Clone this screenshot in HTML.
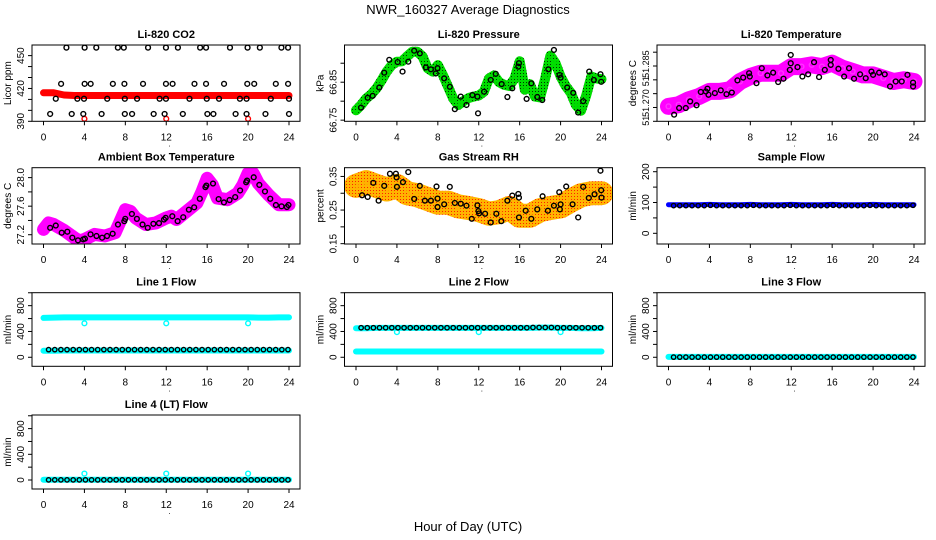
<!DOCTYPE html>
<html><head><meta charset="utf-8"><style>
html,body{margin:0;padding:0;background:#fff}
svg{display:block;font-family:"Liberation Sans",sans-serif}
</style></head><body>
<svg id="chart" width="936" height="540" viewBox="0 0 936 540">
<defs>
<pattern id="patGreen" width="3" height="3" patternUnits="userSpaceOnUse"><rect width="3" height="3" fill="#00dd00"/><rect x="1" y="1" width="1" height="1" fill="#003300"/></pattern>
<pattern id="patOrange" width="3" height="3" patternUnits="userSpaceOnUse"><rect width="3" height="3" fill="#ffb400"/><rect x="1" y="1" width="1" height="1" fill="#ff2000"/></pattern>
</defs>
<text x="468" y="14" text-anchor="middle" font-size="13">NWR_160327  Average Diagnostics</text>
<text x="468" y="531" text-anchor="middle" font-size="13">Hour of Day (UTC)</text>
</svg>
<script>
// ---------- data ----------
const hours25 = [0,1,2,3,4,5,6,7,8,9,10,11,12,13,14,15,16,17,18,19,20,21,22,23,24];
const xTicks = [0,4,8,12,16,20,24];

const co2Red = [416,416,414,413.6,413.6,413.6,413.6,413.6,413.6,413.6,413.6,413.6,413.6,413.6,413.6,413.6,413.6,413.6,413.6,413.6,413.6,413.6,413.6,413.6,413.6];
const co2RedOutT = [4,12,20];
const co2RedOutV = [392.3,392.3,392.3];
const co2BlackT = [2.24,4.02,5.16,7.27,7.85,10.22,11.97,13.14,15.31,15.89,18.23,19.95,21.15,23.26,23.91,
 1.72,4.02,4.61,6.78,7.91,9.73,11.97,12.62,14.76,15.89,17.65,19.92,20.6,22.71,23.91,
 1.2,3.31,3.96,6.23,7.95,9.15,11.35,11.97,14.27,15.96,17.16,19.2,19.85,22.22,24,
 0.65,2.76,3.89,5.68,7.95,8.66,10.77,11.84,13.62,16.02,16.61,18.78,19.85,21.7,24];
const co2BlackV = [457.3,457.3,457.3,457.3,457.3,457.3,457.3,457.3,457.3,457.3,457.3,457.3,457.3,457.3,457.3,
 424.2,424.2,424.2,424.2,424.2,424.2,424.2,424.2,424.2,424.2,424.2,424.2,424.2,424.2,424.2,
 410.6,410.6,410.6,410.6,410.6,410.6,410.6,410.6,410.6,410.6,410.6,410.6,410.6,410.6,410.6,
 396.7,396.7,396.7,396.7,396.7,396.7,396.7,396.7,396.7,396.7,396.7,396.7,396.7,396.7,396.7];

const presHours = [0,0.5,1,1.5,2,2.5,3,3.5,4,4.5,5,5.5,6,6.5,7,7.5,8,8.5,9,9.5,10,10.5,11,11.5,12,12.5,13,13.5,14,14.5,15,15.5,16,16.5,17,17.5,18,18.5,19,19.5,20,20.5,21,21.5,22,22.5,23,23.5,24];
const presGreen = [66.776,66.79,66.807,66.818,66.834,66.855,66.878,66.895,66.904,66.905,66.918,66.93,66.93,66.918,66.887,66.878,66.895,66.869,66.838,66.807,66.79,66.8,66.808,66.812,66.815,66.825,66.86,66.868,66.85,66.843,66.84,66.86,66.905,66.83,66.845,66.812,66.81,66.86,66.92,66.9,66.865,66.84,66.822,66.79,66.775,66.815,66.865,66.86,66.858];
const presBlackT = [0.49,1.14,1.63,2.28,2.76,3.25,4.07,4.55,5.11,5.69,6.24,6.83,7.32,7.8,7.97,8.62,9.17,9.66,10.24,10.8,11.38,11.87,11.93,12.52,13.17,13.66,14.24,14.8,15.28,15.87,15.93,16.68,17.14,17.72,18.21,18.8,19.35,19.9,20,20.65,21.24,21.72,22.21,22.8,23.25,23.9,23.97];
const presBlackV = [66.783,66.809,66.814,66.836,66.875,66.909,66.903,66.878,66.904,66.933,66.926,66.889,66.884,66.873,66.887,66.86,66.838,66.779,66.812,66.79,66.816,66.812,66.768,66.825,66.856,66.872,66.845,66.811,66.834,66.891,66.9,66.806,66.847,66.811,66.803,66.884,66.935,66.869,66.862,66.836,66.822,66.77,66.8,66.878,66.856,66.871,66.851];

const tempMag = [51.2704,51.271,51.2728,51.274,51.2758,51.2758,51.2764,51.2794,51.2812,51.2824,51.2824,51.2824,51.2848,51.2848,51.2854,51.2848,51.286,51.2842,51.283,51.2818,51.2818,51.2806,51.2794,51.28,51.2794];
const tempBlackT = [0.55,1.04,1.69,2.12,2.74,3.16,3.65,3.81,3.91,4.53,5.11,5.67,6.19,6.74,7.3,7.88,7.95,8.6,9.12,9.67,10.23,10.72,11.24,11.86,11.95,11.95,12.61,13.09,13.65,14.23,14.72,15.28,15.86,15.86,16.61,17.17,17.65,18.14,18.73,19.28,19.84,20,20.59,21.14,21.66,22.21,22.8,23.36,23.91,23.91];
const tempBlackV = [51.2674,51.2698,51.2698,51.2722,51.2708,51.2756,51.2758,51.2768,51.2746,51.2752,51.2762,51.2748,51.2754,51.2798,51.2808,51.2824,51.2812,51.2788,51.2842,51.2816,51.2826,51.2792,51.2804,51.2836,51.286,51.289,51.2846,51.2812,51.282,51.2864,51.281,51.2836,51.2872,51.2854,51.284,51.2812,51.2842,51.2804,51.282,51.2806,51.283,51.2818,51.2826,51.282,51.2776,51.2794,51.2794,51.2818,51.279,51.2776];

const ambHours = [0,0.5,1,2,3,3.5,4,5,6,7,7.5,8,8.5,9,10,11,12,12.5,13,14,15,15.5,16,16.5,17,18,19,19.5,20,20.5,21,22,23,24];
const ambMag = [27.274,27.366,27.343,27.26,27.158,27.112,27.135,27.205,27.182,27.228,27.39,27.551,27.528,27.436,27.343,27.366,27.436,27.459,27.413,27.528,27.644,27.806,27.991,27.898,27.713,27.69,27.783,27.898,28.06,28.06,27.921,27.76,27.621,27.621];
const ambBlackT = [0.65,1.2,1.78,2.33,2.82,3.37,3.88,4.05,4.6,5.18,5.73,6.21,6.76,7.28,7.9,7.99,8.64,9.13,9.68,10.19,10.74,11.29,11.78,11.94,12.59,13.11,13.66,14.21,14.73,15.28,15.83,15.92,16.57,17.12,17.64,18.19,18.74,19.22,19.81,19.9,20.55,21.1,21.65,22.17,22.72,23.27,23.79,23.95];
const ambBlackV = [27.297,27.329,27.228,27.242,27.158,27.121,27.135,27.145,27.205,27.182,27.158,27.182,27.214,27.343,27.39,27.422,27.491,27.422,27.343,27.297,27.353,27.362,27.413,27.436,27.459,27.39,27.445,27.551,27.584,27.704,27.866,27.889,27.917,27.699,27.653,27.686,27.727,27.82,27.935,27.958,28.005,27.898,27.806,27.704,27.616,27.598,27.588,27.616];

const rhCloud = [0.322,0.333,0.322,0.311,0.322,0.3,0.294,0.283,0.272,0.272,0.261,0.256,0.25,0.239,0.244,0.256,0.233,0.233,0.25,0.256,0.261,0.278,0.294,0.3,0.3];
const rhBlackT = [0.59,1.14,1.69,2.21,2.76,3.32,3.9,3.97,4,4.59,5.11,5.69,6.24,6.73,7.32,7.87,7.97,7.97,8.62,9.17,9.66,10.24,10.8,11.32,11.87,11.97,12.03,12.62,13.17,13.72,14.21,14.8,15.28,15.87,15.93,15.93,16.59,17.14,17.72,18.24,18.76,19.35,19.87,19.93,20,20.55,21.17,21.72,22.21,22.76,23.32,23.9,23.97,24];
const rhBlackV = [0.294,0.289,0.331,0.278,0.322,0.358,0.358,0.347,0.319,0.333,0.363,0.283,0.322,0.278,0.278,0.32,0.284,0.259,0.267,0.319,0.271,0.269,0.263,0.224,0.264,0.247,0.24,0.239,0.213,0.239,0.217,0.278,0.293,0.298,0.287,0.228,0.248,0.224,0.252,0.291,0.248,0.263,0.303,0.252,0.267,0.32,0.267,0.228,0.319,0.286,0.297,0.367,0.309,0.287];

const flowT = [0.5,1.1,1.7,2.3,2.9,3.5,4.1,4.7,5.3,5.9,6.5,7.1,7.7,8.3,8.9,9.5,10.1,10.7,11.3,11.9,12.5,13.1,13.7,14.3,14.9,15.5,16.1,16.7,17.3,17.9,18.5,19.1,19.7,20.3,20.9,21.5,22.1,22.7,23.3,23.9];
const sampleBlue = [93,93,93,93,94,93,93,93,94,93,93,93,94,93,93,93,94,93,93,93,94,93,93,93,93];
const sampleBlack = [90,90,90,90,90,90,91,90,90,90,90,90,90,91,90,90,90,90,90,91,90,90,90,90,90,90,91,90,90,90,90,90,91,90,90,90,90,90,90,91];
const line1CyanHigh = [610,615,618,618,618,618,618,618,618,618,618,618,618,618,618,618,618,618,618,618,618,615,615,618,618];
const line1CyanLow = [100,100,105,105,105,105,105,105,105,105,105,105,105,105,105,105,105,105,105,105,105,105,105,105,105];
const line1Black = [118,118,118,118,118,118,118,118,118,118,118,118,118,118,118,118,118,118,118,118,118,118,118,118,118,118,118,118,118,118,118,118,118,118,118,118,118,118,118,118];
const line1OutT = [4,12,20];
const line1OutV = [527,527,527];
const line2CyanHigh = [450,450,455,455,455,455,455,455,455,455,455,455,455,455,455,455,455,455,460,460,455,455,450,450,455];
const line2CyanLow = [90,90,90,90,90,90,90,90,90,90,90,90,90,90,90,90,90,90,90,90,90,90,90,90,90];
const line2Black = [458,458,458,458,458,458,458,458,458,458,458,458,458,458,458,458,458,458,458,458,458,458,458,458,458,458,458,458,462,462,462,462,458,458,458,458,458,458,458,458];
const line2OutT = [4,12,20];
const line2OutV = [390,390,390];
const line3Cyan = [5,5,5,5,5,5,5,5,5,5,5,5,5,5,5,5,5,5,5,5,5,5,5,5,5];
const line3Black = [2,2,2,2,2,2,2,2,2,2,2,2,2,2,2,2,2,2,2,2,2,2,2,2,2,2,2,2,2,2,2,2,2,2,2,2,2,2,2,2];
const line4Cyan = [5,5,5,5,5,5,5,5,5,5,5,5,5,5,5,5,5,5,5,5,5,5,5,5,5];
const line4Black = [2,2,2,2,2,2,2,2,2,2,2,2,2,2,2,2,2,2,2,2,2,2,2,2,2,2,2,2,2,2,2,2,2,2,2,2,2,2,2,2];
const line4OutT = [4,12,20];
const line4OutV = [100,100,100];

// ---------- drawing ----------
const NS = "http://www.w3.org/2000/svg";
const svg = document.getElementById("chart");
const colLeft = [32, 344.5, 657];
const rowTop = [45, 167.7, 292.7, 415];
const rowBot = [121.3, 244, 366.3, 489];
const W = 268;

function el(tag, attrs, parent) {
  const e = document.createElementNS(NS, tag);
  for (const k in attrs) e.setAttribute(k, attrs[k]);
  (parent || svg).appendChild(e);
  return e;
}

function panel(col, row, name, title, ytitle, ymin, ymax, ticks, labels, labelVals, labelSize) {
  const L = colLeft[col], T = rowTop[row], B = rowBot[row];
  const g = el("g", {});
  
  
  const x = h => L + 11.5 + h * (245.5 / 24);
  const y = v => B - (v - ymin) / (ymax - ymin) * (B - T);
  const clipId = "clip-" + name;
  const cp = el("clipPath", {id: clipId}, g);
  el("rect", {x: L, y: T, width: W, height: B - T}, cp);
  const plot = el("g", {"clip-path": "url(#" + clipId + ")"}, g);
  
  
  const box = el("rect", {x: L, y: T, width: W, height: B - T, fill: "none", stroke: "#000", "stroke-width": 1}, g);
  
  
  const t = el("text", {x: L + 11.5 + 122.75, y: T - 7, "text-anchor": "middle", "font-size": 11, "font-weight": "bold"}, g);
  t.textContent = title;
  
  
  const xa = el("g", {}, g);
  
  
  xTicks.forEach(h => {
    el("line", {x1: x(h), x2: x(h), y1: B, y2: B + 4, stroke: "#000"}, xa);
    const tl = el("text", {x: x(h), y: B + 19, "text-anchor": "middle", "font-size": 10}, xa);
    tl.textContent = h;
    
    
  });
  const dot = el("text", {x: x(12) + 2, y: B + 25, "font-size": 8}, xa);
  dot.textContent = ".";
  const ya = el("g", {}, g);
  
  
  ticks.forEach(v => {
    el("line", {x1: L - 4, x2: L, y1: y(v), y2: y(v), stroke: "#000"}, ya);
  });
  const lv = labelVals || ticks;
  labels.forEach((lab, i) => {
    if (!lab) return;
    const tl = el("text", {x: 0, y: 0, "text-anchor": "middle", "font-size": labelSize || 10, transform: "translate(" + (L - 8) + "," + y(lv[i]) + ") rotate(-90)"}, ya);
    tl.textContent = lab;
    
    
  });
  const yt = el("text", {x: 0, y: 0, "text-anchor": "middle", "font-size": 10, transform: "translate(" + (L - 21) + "," + ((T + B) / 2) + ") rotate(-90)"}, ya);
  yt.textContent = ytitle;
  
  
  return {x, y, plot};
}

function band(p, ts, vs, color, width, name) {
  const pts = ts.map((t, i) => p.x(t).toFixed(1) + "," + p.y(vs[i]).toFixed(1)).join(" ");
  const pl = el("polyline", {points: pts, fill: "none", stroke: color, "stroke-width": width, "stroke-linejoin": "round", "stroke-linecap": "round"}, p.plot);
  
  
}
function pts(p, ts, vs, color, name, r) {
  const g = el("g", {}, p.plot);
  
  
  ts.forEach((t, i) => {
    const c = el("circle", {cx: p.x(t), cy: p.y(vs[i]), r: r || 2.4, fill: "none", stroke: color, "stroke-width": 1.4}, g);
    
    
  });
}

let p = panel(0, 0, "co2", "Li-820 CO2", "Licor ppm", 390, 459.7, [390,400,410,420,430,440,450], ["390","","","420","","","450"]);
band(p, hours25, co2Red, "#ff0000", 7, "co2-red-series");
pts(p, co2RedOutT, co2RedOutV, "#ff0000", "co2-red-outliers");
pts(p, co2BlackT, co2BlackV, "#000", "co2-black-series");

p = panel(1, 0, "pressure", "Li-820 Pressure", "kPa", 66.747, 66.948, [66.75,66.8,66.85,66.9], ["66.75","","66.85",""]);
band(p, presHours, presGreen, "url(#patGreen)", 10, "pressure-green-series");
pts(p, presHours, presGreen, "#00dd00", "pressure-green-points");
pts(p, presBlackT, presBlackV, "#000", "pressure-black-series");

p = panel(2, 0, "li820-temp", "Li-820 Temperature", "degrees C", 51.265, 51.2926, [51.265,51.27,51.275,51.28,51.285,51.29], ["51.285","51","51.270","51"], [51.2857,51.2795,51.2716,51.2652], 9);
band(p, hours25, tempMag, "#ff00ff", 17, "li820-temp-magenta-series");
pts(p, hours25, tempMag, "#ff33ff", "li820-temp-magenta-points");
pts(p, tempBlackT, tempBlackV, "#000", "li820-temp-black-series");

p = panel(0, 1, "ambient-temp", "Ambient Box Temperature", "degrees C", 27.07, 28.139, [27.2,27.4,27.6,27.8,28.0], ["27.2","","27.6","","28.0"]);
band(p, ambHours, ambMag, "#ff00ff", 13, "ambient-temp-magenta-series");
pts(p, ambBlackT, ambBlackV, "#000", "ambient-temp-black-series");

p = panel(1, 1, "rh", "Gas Stream RH", "percent", 0.149, 0.376, [0.15,0.2,0.25,0.3,0.35], ["0.15","","0.25","","0.35"]);
band(p, hours25, rhCloud, "url(#patOrange)", 24, "rh-orange-series");
pts(p, hours25, rhCloud, "#ffb000", "rh-orange-points");
pts(p, rhBlackT, rhBlackV, "#000", "rh-black-series");

p = panel(2, 1, "sample-flow", "Sample Flow", "ml/min", -34.7, 213, [0,50,100,150,200], ["0","","100","","200"]);
band(p, hours25, sampleBlue, "#0000ff", 5, "sample-flow-blue-series");
pts(p, flowT, sampleBlack, "#000", "sample-flow-black-series", 2.2);

const fTicks = [0,200,400,600,800,1000], fLabels = ["0","","400","","800",""];
p = panel(0, 2, "line1-flow", "Line 1 Flow", "ml/min", -140, 1001, fTicks, fLabels);
band(p, hours25, line1CyanHigh, "#00ffff", 6, "line1-cyan-high-series");
band(p, hours25, line1CyanLow, "#00ffff", 6, "line1-cyan-low-series");
pts(p, line1OutT, line1OutV, "#00ffff", "line1-cyan-outliers");
pts(p, flowT, line1Black, "#000", "line1-black-series", 2.2);

p = panel(1, 2, "line2-flow", "Line 2 Flow", "ml/min", -140, 1001, fTicks, fLabels);
band(p, hours25, line2CyanHigh, "#00ffff", 6, "line2-cyan-high-series");
band(p, hours25, line2CyanLow, "#00ffff", 6, "line2-cyan-low-series");
pts(p, line2OutT, line2OutV, "#00ffff", "line2-cyan-outliers");
pts(p, flowT, line2Black, "#000", "line2-black-series", 2.2);

p = panel(2, 2, "line3-flow", "Line 3 Flow", "ml/min", -140, 1001, fTicks, fLabels);
band(p, hours25, line3Cyan, "#00ffff", 6, "line3-cyan-series");
pts(p, flowT, line3Black, "#000", "line3-black-series", 2.2);

p = panel(0, 3, "line4-flow", "Line 4 (LT) Flow", "ml/min", -140, 1012, fTicks, fLabels);
band(p, hours25, line4Cyan, "#00ffff", 6, "line4-cyan-series");
pts(p, line4OutT, line4OutV, "#00ffff", "line4-cyan-outliers");
pts(p, flowT, line4Black, "#000", "line4-black-series", 2.2);
</script>
</body></html>
